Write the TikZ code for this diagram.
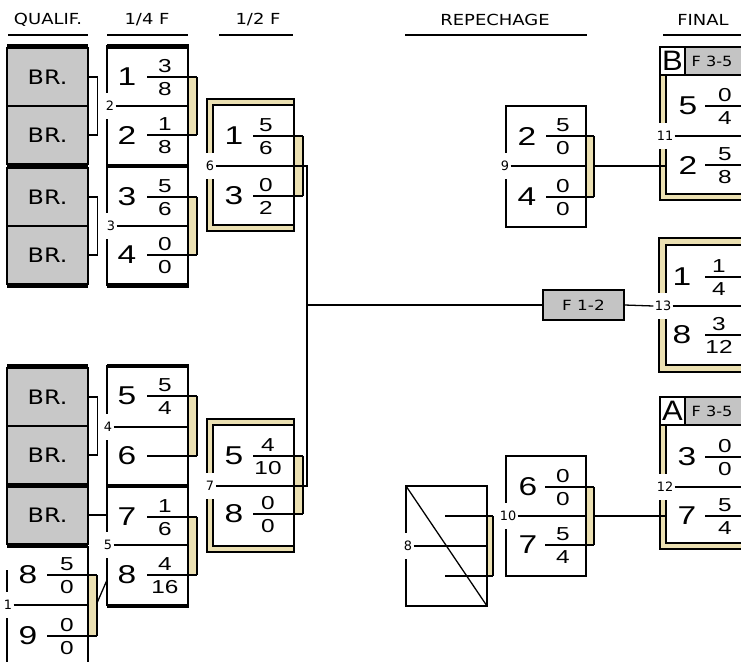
\documentclass[tikz,border=0pt]{standalone}
\usepackage{fontspec}
\usepackage{graphicx}
\setmainfont{Liberation Sans}
\newfontfamily\tahoma{DejaVu Sans}
\usetikzlibrary{positioning}
\definecolor{brgray}{HTML}{C8C8C8}
\definecolor{cellgray}{HTML}{C4C4C4}
\definecolor{tanc}{HTML}{EBE0B2}
\newcommand{\fsz}[1]{\fontsize{#1}{#1}\selectfont}
\newcommand{\wtxt}[1]{\scalebox{1.2}[1]{#1}}

\begin{document}
\begin{tikzpicture}[x=0.03cm, y=-0.03cm,
    wire/.style={line width=1.1pt},
    bar/.style={fill=black},
    tanb/.style={fill=tanc},
    head/.style={font=\tahoma\fsz{13}, xscale=1.18, inner sep=0pt},
    brbox/.style={draw, wire, fill=brgray, minimum width=2.43cm, minimum height=1.74cm, inner sep=0pt, font=\tahoma\fsz{17}},
    fbox/.style={draw, wire, fill=cellgray, minimum width=2.43cm, minimum height=0.9cm, inner sep=0pt, font=\tahoma\fsz{12}},
    seed/.style={font=\fsz{22}, xscale=1.3, inner sep=0pt},
    frac/.style={font=\fsz{16}, xscale=1.3, inner sep=0pt},
    lbl/.style={font=\tahoma\fsz{11}, fill=white, inner xsep=1pt, inner ysep=0pt, minimum height=0.8cm},
    captxt/.style={font=\tahoma\fsz{12}, xscale=1.15, inner sep=0pt},
    letter/.style={font=\fsz{24}, xscale=1.1, inner sep=0pt}
]
\useasboundingbox (0,0) rectangle (741,661);
\clip (0,0) rectangle (741,661);

% headers
\foreach \tx/\xc/\xa/\xb [count=\i] in {QUALIF./48/8/88, {1/4 F}/147/107/188, {1/2 F}/258/219/293, REPECHAGE/495/405/587, FINAL/703/663/741} {
    \node[head] (h\i) at (\xc,20) {\tx};
    \draw[wire] (\xa,35) -- (\xb,35);
}

% qualification
\foreach \y [count=\i] in {77,135,197,255,397,455,515}
    \node[brbox] (q\i) at (47.5,\y) {\wtxt{BR.}};

% tan brackets
\foreach \xa/\xb/\ya/\yb in {188/197/77/135, 188/197/197/255, 188/197/396/456, 188/197/517/575, 88/97/575/636, 294/303/136/196, 294/303/456/514, 586/594/136/197, 586/594/487/545, 487/493/516/576} {
    \fill[tanb] (\xa,\ya) rectangle (\xb,\yb);
    \draw[wire] (\xb,\ya) -- (\xb,\yb);
}

% double frames (1/2 F and final)
\foreach \xa/\ya/\xb/\yb/\s in {207/99/294/231/6, 207/419/294/552/6, 659/238/760/372/7} {
    \fill[tanb] (\xa,\ya) rectangle (\xb,\yb);
    \draw[wire, fill=white] (\xa+\s,\ya+\s) rectangle (\xb,\yb-\s);
    \draw[wire] (\xa,\ya) rectangle (\xb,\yb);
}
\foreach \ya/\yb/\lt in {47/200/B, 397/549/A} {
    \fill[tanb] (660,\ya+28) rectangle (760,\yb);
    \fill[white] (666,\ya+28) rectangle (760,\yb-6);
    \draw[wire] (666,\ya+28) -- (666,\yb-6) -- (760,\yb-6);
    \draw[wire] (660,\ya) -- (660,\yb) -- (760,\yb);
    \draw[wire] (660,\ya) rectangle (685,\ya+28);
    \draw[wire, fill=cellgray] (685,\ya) rectangle (760,\ya+28);
    \node[letter] (c\lt) at (672.5,\ya+14) {\lt};
    \node[captxt] (f\lt) at (712,\ya+14) {F 3-5};
}

% single boxes
\foreach \xa/\ya/\xb/\yb in {506/106/586/227, 506/456/586/576, 406/486/487/606, 107/46/188/165, 107/166/188/285, 107/366/188/485, 107/486/188/605}
    \draw[wire] (\xa,\ya) rectangle (\xb,\yb);
\draw[wire] (7,570) -- (7,665);
\draw[wire] (88,546) -- (88,665);
\draw[wire] (406,486) -- (487,606);

% thick bars
\foreach \xa/\xb/\y in {7/88/44, 7/88/163.5, 7/88/283, 7/88/363.5, 7/88/483.5, 7/88/543.5, 106.5/188.5/44, 106.5/188.5/163.5, 106.5/188.5/283, 106.5/188.5/363.5, 106.5/188.5/483.5, 106.5/188.5/603.5}
    \fill[bar] (\xa,\y) rectangle (\xb,\y+4.5);

% match numbers
\foreach \x/\y/\lb in {110/106/2, 111/226/3, 108/427/4, 108/545/5, 8/605/1, 210/166/6, 210/486/7, 408/546/8, 505/166/9, 508/516/10, 665/136/11, 665/487/12, 663/306/13}
    \node[lbl] (l\lb) at (\x,\y) {\lb};
\foreach \lb/\x/\y in {2/188/106, 3/188/226, 4/188/427, 5/188/545, 1/88/605, 8/487/546, 9/586/166, 10/586/516, 11/760/136, 12/760/487, 13/760/306}
    \draw[wire] (l\lb.east) -- (\x,\y);

% slots
\foreach \xd/\xf/\xa/\xb/\y/\sd/\nm/\dn [count=\i] in {
    127/165/147/197/77/1/3/8, 127/165/147/197/135/2/1/8,
    127/165/147/197/197/3/5/6, 127/165/147/197/255/4/0/0,
    127/165/147/197/396/5/5/4, 127/165/147/197/456/6/{}/{},
    127/165/147/197/517/7/1/6, 127/165/147/197/575/8/4/16,
    28/67/47/97/575/8/5/0, 28/67/47/97/636/9/0/0,
    234/266/253/303/136/1/5/6, 234/266/253/303/196/3/0/2,
    234/268/253/303/456/5/4/10, 234/268/253/303/514/8/0/0,
    527/563/546/594/136/2/5/0, 527/563/546/594/197/4/0/0,
    528/563/545/594/487/6/0/0, 528/563/545/594/545/7/5/4,
    688/725/705/760/106/5/0/4, 688/725/705/760/165/2/5/8,
    682/719/705/760/277/1/1/4, 682/719/705/760/335/8/3/12,
    687/725/705/760/457/3/0/0, 687/725/705/760/516/7/5/4} {
    \node[seed] (s\i) at (\xd,\y) {\sd};
    \draw[wire] (\xa,\y) -- (\xb,\y);
    \node[frac] (n\i) at (\xf,\y-11) {\nm};
    \node[frac] (d\i) at (\xf,\y+12) {\dn};
}
\draw[wire] (445,516) -- (493,516);
\draw[wire] (445,576) -- (493,576);

% connectors
\draw[wire] (q1.east) -- ++(9,0) |- (q2.east);
\draw[wire] (q3.east) -- ++(9,0) |- (q4.east);
\draw[wire] (q5.east) -- ++(9,0) |- (q6.east);
\coordinate (m5) at (107,515);
\draw[wire] (q7.east) -- (m5);
\coordinate (o1) at (97,603);
\coordinate (i5) at (107,580);
\draw[wire] (o1) -- (i5);
\node[fbox] (f12) at (583.5,305) {\wtxt{F 1-2}};
\draw[wire] (l6.east) -- (307,166) -- (307,486) -- (l7.east);
\coordinate (j) at (307,305);
\draw[wire] (j) -- (f12.west);
\draw[wire] (f12.east) -- (l13.west);
\coordinate (o9) at (594,166);
\coordinate (i11) at (666,166);
\draw[wire] (o9) -- (i11);
\coordinate (o10) at (594,516);
\coordinate (i12) at (666,516);
\draw[wire] (o10) -- (i12);
\end{tikzpicture}
\end{document}
